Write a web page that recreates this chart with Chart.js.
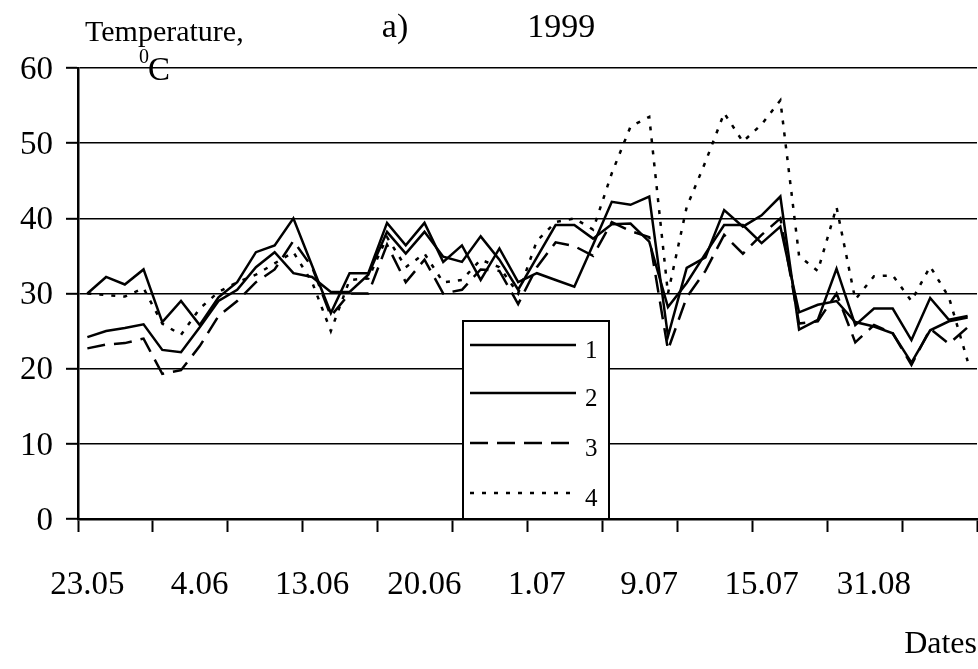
<!DOCTYPE html>
<html>
<head>
<meta charset="utf-8">
<script src="https://cdn.jsdelivr.net/npm/chart.js@4/dist/chart.umd.min.js"></script>
<style>
html,body{margin:0;padding:0;background:#fff;}
#wrap{width:978px;height:669px;}
</style>
</head>
<body>
<div id="wrap"><canvas id="c" width="978" height="669"></canvas></div>
<script>
// ---- data ----
const dateLabels = ['23.05', '4.06', '13.06', '20.06', '1.07', '9.07', '15.07', '31.08'];
const categories = [
  '23.05','','','','','',
  '4.06','','','','','',
  '13.06','','','','','',
  '20.06','','','','','',
  '1.07','','','','','',
  '9.07','','','','','',
  '15.07','','','','','',
  '31.08','','','','',''
];
const seriesNames = ['1', '2', '3', '4'];
const series1 = [30.0, 32.2, 31.2, 33.2, 26.2, 29.0, 25.8, 29.5, 31.5, 35.5, 36.4, 40.0,
                 33.7, 27.4, 32.7, 32.7, 39.4, 36.4, 39.4, 34.2, 36.4, 31.8, 36.0, 31.5,
                 32.7, 31.8, 30.9, 36.5, 42.2, 41.8, 42.9, 24.3, 33.4, 34.8, 41.1, 38.9,
                 40.4, 42.9, 25.2, 26.5, 33.3, 25.8, 28.0, 28.0, 23.8, 29.4, 26.5, 27.0];
const series2 = [24.2, 25.0, 25.4, 25.9, 22.5, 22.2, 25.5, 29.0, 30.5, 33.5, 35.5, 32.7,
                 32.2, 30.2, 30.2, 32.5, 38.2, 35.3, 38.2, 34.9, 34.2, 37.6, 34.5, 30.5,
                 34.8, 39.1, 39.1, 37.3, 39.2, 39.3, 36.9, 28.2, 31.4, 35.3, 39.1, 39.1,
                 36.7, 38.9, 27.5, 28.5, 29.0, 26.2, 25.6, 24.7, 20.8, 25.1, 26.3, 26.8];
const series3 = [22.7, 23.2, 23.4, 24.0, 19.3, 19.8, 23.0, 27.0, 29.0, 31.5, 33.2, 37.0,
                 33.5, 27.0, 30.0, 30.0, 36.5, 31.5, 34.5, 30.0, 30.5, 33.2, 33.0, 28.6,
                 33.5, 36.8, 36.3, 35.0, 39.5, 38.3, 37.5, 22.5, 29.5, 33.0, 37.8, 35.3,
                 37.8, 40.0, 26.0, 26.3, 30.0, 23.5, 25.8, 24.7, 20.5, 25.3, 23.3, 25.5];
const series4 = [30.0, 29.8, 29.6, 30.7, 26.0, 24.5, 28.0, 30.2, 31.5, 32.5, 34.0, 35.5,
                 31.5, 25.0, 31.8, 32.0, 37.5, 33.5, 35.3, 31.5, 31.8, 34.5, 33.5, 30.0,
                 37.0, 39.5, 40.0, 38.5, 46.0, 52.2, 53.5, 30.0, 41.5, 47.5, 54.0, 50.2,
                 52.5, 55.7, 35.0, 33.0, 41.5, 29.2, 32.3, 32.4, 29.0, 33.6, 29.5, 21.0];
const yTicks = [0, 10, 20, 30, 40, 50, 60];

const SERIF = '"Liberation Serif", "Times New Roman", serif';

const extras = {
  id: 'extras',
  afterDraw(chart) {
    const ctx = chart.ctx;
    ctx.save();
    ctx.fillStyle = '#000';
    ctx.textBaseline = 'alphabetic';
    ctx.textAlign = 'left';
    ctx.font = '30px ' + SERIF;
    ctx.fillText('Temperature,', 85, 41);
    ctx.font = '20px ' + SERIF;
    ctx.fillText('0', 139, 63);
    ctx.font = '33px ' + SERIF;
    ctx.fillText('C', 148, 80);

    // legend box
    const L = 463, T = 321, W = 146, H = 198;
    ctx.fillStyle = '#fff';
    ctx.fillRect(L, T, W, H);
    ctx.strokeStyle = '#000';
    ctx.lineWidth = 2;
    ctx.setLineDash([]);
    ctx.strokeRect(L, T, W, H);
    const rows = [345, 393, 443, 493];
    chart.data.datasets.forEach((ds, i) => {
      const y = rows[i];
      ctx.strokeStyle = '#000';
      ctx.lineWidth = ds.borderWidth;
      ctx.setLineDash(ds.borderDash || []);
      ctx.beginPath();
      ctx.moveTo(470, y);
      ctx.lineTo(576, y);
      ctx.stroke();
      ctx.setLineDash([]);
      ctx.fillStyle = '#000';
      ctx.font = '25px ' + SERIF;
      ctx.textBaseline = 'alphabetic';
      ctx.fillText(ds.label, 585, y + 13);
    });
    ctx.restore();
  }
};

new Chart(document.getElementById('c'), {
  type: 'line',
  data: {
    labels: categories,
    datasets: [
      { label: seriesNames[0], data: series1, borderColor: '#000', borderWidth: 2.5, pointRadius: 0, fill: false, tension: 0 },
      { label: seriesNames[1], data: series2, borderColor: '#000', borderWidth: 2.5, pointRadius: 0, fill: false, tension: 0 },
      { label: seriesNames[2], data: series3, borderColor: '#000', borderWidth: 2.5, borderDash: [18, 9], pointRadius: 0, fill: false, tension: 0 },
      { label: seriesNames[3], data: series4, borderColor: '#000', borderWidth: 2.5, borderDash: [4, 8], pointRadius: 0, fill: false, tension: 0 }
    ]
  },
  options: {
    responsive: false,
    animation: false,
    devicePixelRatio: 1,
    layout: { padding: { left: 0, right: 1, top: 0, bottom: 0 } },
    plugins: {
      legend: { display: false },
      tooltip: { enabled: false },
      title: {
        display: true,
        text: 'a)              1999',
        color: '#000',
        font: { family: SERIF, size: 34, weight: 'normal', lineHeight: 1.2 },
        padding: { top: 8, bottom: 19.2 }
      }
    },
    scales: {
      x: {
        type: 'category',
        offset: true,
        afterFit: (s) => { s.height = 150; s.paddingLeft = 0; s.paddingRight = 0; },
        grid: {
          offset: true,
          drawOnChartArea: false,
          drawTicks: true,
          tickLength: 13,
          tickWidth: 2,
          tickColor: (c) => (c.index === undefined || c.index % 4 === 0) ? '#000' : 'rgba(0,0,0,0)'
        },
        border: { display: true, color: '#000', width: 2.5 },
        ticks: {
          autoSkip: false,
          maxRotation: 0,
          minRotation: 0,
          padding: 34,
          color: '#000',
          font: { family: SERIF, size: 33 }
        },
        title: {
          display: true,
          text: 'Dates',
          align: 'end',
          color: '#000',
          font: { family: SERIF, size: 32, lineHeight: 1.2 },
          padding: { top: 0, bottom: 5 }
        }
      },
      y: {
        min: 0,
        max: 60,
        afterFit: (s) => { s.width = 78; },
        afterBuildTicks: (s) => { s.ticks = yTicks.map(v => ({ value: v })); },
        grid: {
          color: '#000',
          lineWidth: 1.6,
          drawTicks: true,
          tickLength: 12,
          tickWidth: 2
        },
        border: { display: true, color: '#000', width: 2.5 },
        ticks: {
          padding: 13,
          labelOffset: 2,
          color: '#000',
          font: { family: SERIF, size: 33 }
        }
      }
    }
  },
  plugins: [extras]
});
</script>
</body>
</html>
